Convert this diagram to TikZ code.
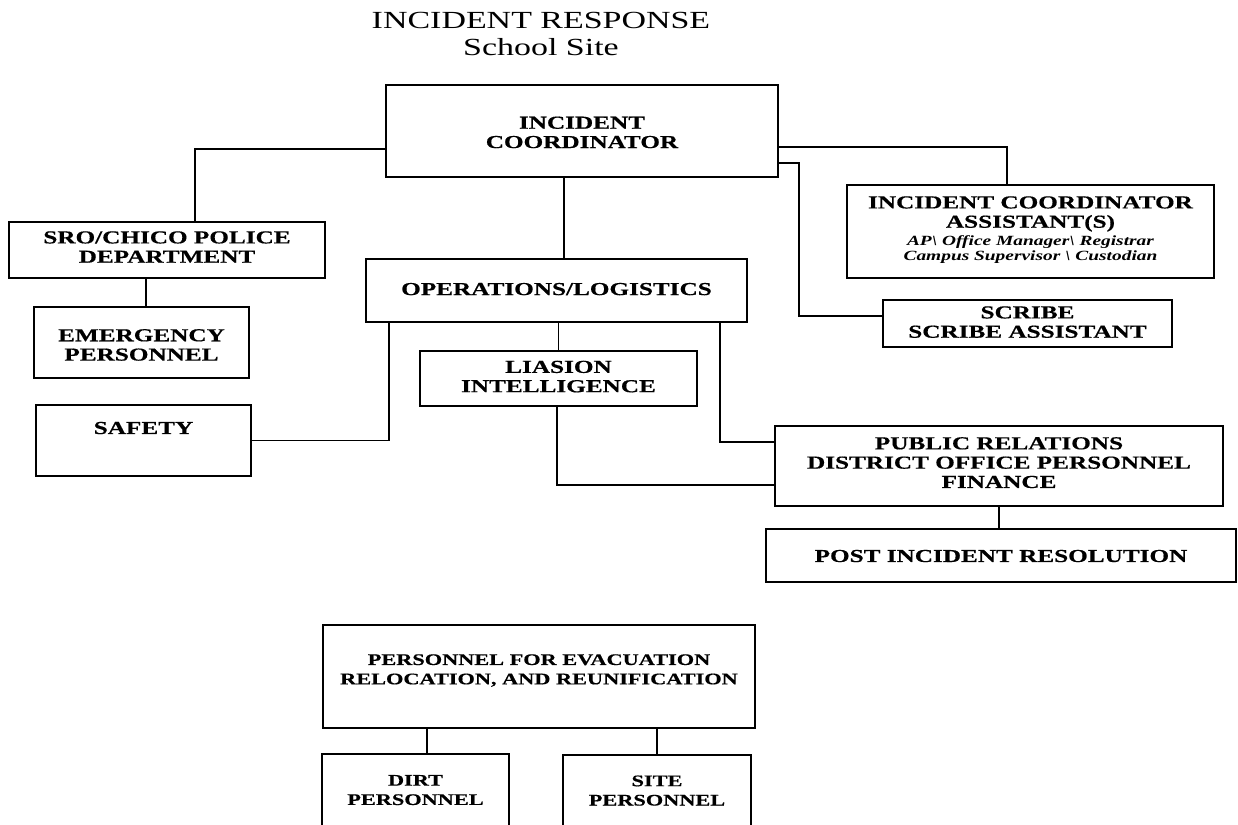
\documentclass[tikz,border=0pt]{standalone}
\usepackage{fontspec}
\setmainfont[FakeStretch=1.38, BoldFeatures={FakeBold=0.5}]{Liberation Serif}
\usetikzlibrary{fit,positioning}

\begin{document}
\begin{tikzpicture}[x=0.02cm, y=-0.02cm, box/.style={draw, line width=0.9pt, inner sep=0pt}, txt/.style={align=center, inner sep=0pt, font=\fontsize{10.4}{11}\selectfont\bfseries}, small/.style={txt, font=\fontsize{9.2}{11}\selectfont\bfseries}, link/.style={line width=0.9pt}, heading/.style={font=\fontsize{14}{16}\selectfont}]
	\useasboundingbox (0,0) rectangle (1238,825);

	\node[heading] (title) at (541,20) {INCIDENT RESPONSE};
	\node[heading] (site) at (541,47) {School Site};

	\node[box, fit={(386,85) (778,177)}] (coord) {};
	\node[box, fit={(9,222) (325,278)}] (police) {};
	\node[box, fit={(34,307) (249,378)}] (emerg) {};
	\node[box, fit={(36,405) (251,476)}] (safety) {};
	\node[box, fit={(366,259) (747,322)}] (ops) {};
	\node[box, fit={(420,351) (697,406)}] (liaison) {};
	\node[box, fit={(775,426) (1223,506)}] (public) {};
	\node[box, fit={(766,529) (1236,582)}] (post) {};
	\node[box, fit={(847,185) (1214,278)}] (assist) {};
	\node[box, fit={(883,300) (1172,347)}] (scribe) {};
	\node[box, fit={(323,625) (755,728)}] (evac) {};
	\node[box, fit={(322,754) (509,830)}] (dirt) {};
	\node[box, fit={(563,755) (751,830)}] (sitestaff) {};

	\node[txt, yshift=-0.8pt] (coord-t) at (coord) {INCIDENT\\COORDINATOR};
	\node[txt, yshift=1.7pt] (police-t) at (police) {SRO/CHICO POLICE\\DEPARTMENT};
	\node[txt, yshift=-1.4pt] (emerg-t) at (emerg) {EMERGENCY\\PERSONNEL};
	\node[txt, yshift=7.1pt] (safety-t) at (safety) {SAFETY};
	\node[txt, yshift=0.8pt] (ops-t) at (ops) {OPERATIONS/LOGISTICS};
	\node[txt, yshift=1.1pt] (liaison-t) at (liaison) {LIASION\\INTELLIGENCE};
	\node[txt, yshift=1.9pt] (public-t) at (public) {PUBLIC RELATIONS\\DISTRICT OFFICE PERSONNEL\\FINANCE};
	\node[txt, yshift=-0.3pt] (post-t) at (post) {POST INCIDENT RESOLUTION};
	\node[txt, yshift=1pt] (assist-t) at (assist) {INCIDENT COORDINATOR\\ASSISTANT(S)\\[-1pt]
		{\fontsize{8}{9}\selectfont\itshape AP\textbackslash{} Office Manager\textbackslash{} Registrar}\\[-2.5pt]
		{\fontsize{8}{9}\selectfont\itshape Campus Supervisor \textbackslash{} Custodian}};
	\node[txt, yshift=0.8pt] (scribe-t) at (scribe) {SCRIBE\\SCRIBE ASSISTANT};
	\node[small, yshift=3.4pt] (evac-t) at (evac) {PERSONNEL FOR EVACUATION\\RELOCATION, AND REUNIFICATION};
	\node[small, yshift=1.1pt] (dirt-t) at (dirt) {DIRT\\PERSONNEL};
	\node[small, yshift=1.1pt] (sitestaff-t) at (sitestaff) {SITE\\PERSONNEL};

	\coordinate (j1) at (195,149);
	\coordinate (j2) at (146,0);
	\coordinate (j3) at (564,0);
	\coordinate (j4) at (389,0);
	\coordinate (j5) at (720,442);
	\coordinate (j6) at (557,485);
	\coordinate (j7) at (1007,147);
	\coordinate (j8) at (799,163);
	\coordinate (j9) at (799,316);
	\coordinate (j10) at (427,0);

	\draw[link] (coord.west |- j1) -| (police.north -| j1);
	\draw[link] (police.south -| j2) -- (emerg.north -| j2);
	\draw[link] (coord.south -| j3) -- (ops.north -| j3);
	\draw[link] (ops.south -| liaison.north) -- (liaison.north);
	\draw[link] (safety.east) -| (ops.south -| j4);
	\draw[link] (ops.south -| j5) |- (public.west |- j5);
	\draw[link] (liaison.south -| j6) |- (public.west |- j6);
	\draw[link] (public.south) -- (post.north -| public.south);
	\draw[link] (coord.east |- j7) -| (assist.north -| j7);
	\draw[link] (coord.east |- j8) -- (j8) -- (j9) -- (scribe.west |- j9);
	\draw[link] (evac.south -| j10) -- (dirt.north -| j10);
	\draw[link] (evac.south -| sitestaff.north) -- (sitestaff.north);
\end{tikzpicture}
\end{document}
